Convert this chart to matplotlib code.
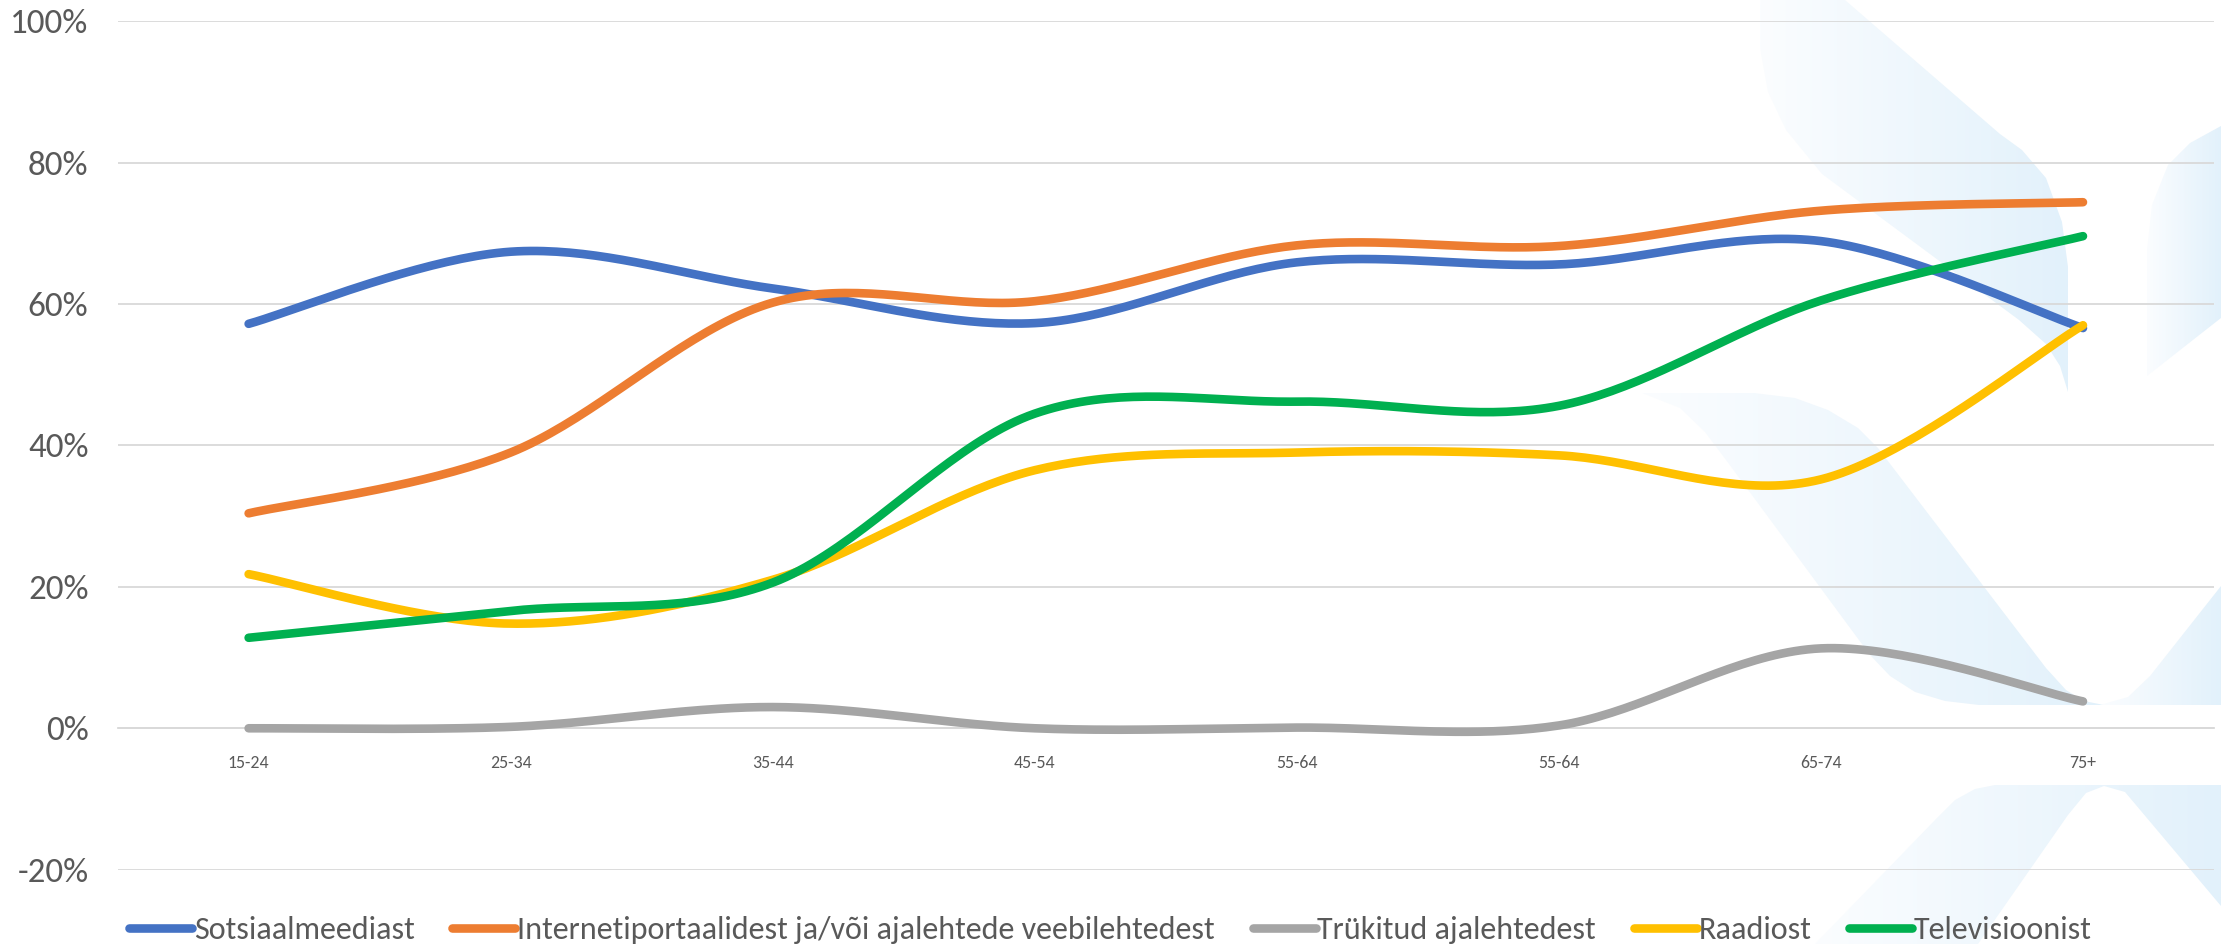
import numpy as np
import matplotlib
matplotlib.use('Agg')
import matplotlib.pyplot as plt
from matplotlib import font_manager
from matplotlib.font_manager import FontProperties
from matplotlib.textpath import TextPath
from matplotlib.patches import Polygon
from matplotlib.colors import LinearSegmentedColormap

# ---------------- data ----------------
categories = ['15-24', '25-34', '35-44', '45-54', '55-64', '55-64', '65-74', '75+']
sotsiaalmeedia = [57.2, 67.4, 62.2, 57.3, 65.9, 65.6, 68.9, 56.6]
internetiportaalid = [30.4, 39.0, 60.2, 60.4, 68.3, 68.2, 73.2, 74.4]
trukitud = [0.0, 0.2, 3.0, 0.0, 0.1, 0.4, 11.3, 3.8]
raadio = [21.8, 14.8, 21.0, 36.5, 39.0, 38.6, 35.2, 57.0]
televisioon = [12.8, 16.6, 20.6, 44.5, 46.2, 45.6, 60.5, 69.6]
series_names = ['Sotsiaalmeediast',
                'Internetiportaalidest ja/või ajalehtede veebilehtedest',
                'Trükitud ajalehtedest', 'Raadiost', 'Televisioonist']
y_ticks = [-20, 0, 20, 40, 60, 80, 100]

series = [sotsiaalmeedia, internetiportaalid, trukitud, raadio, televisioon]
colors = ['#4472C4', '#ED7D31', '#A5A5A5', '#FFC000', '#00B050']
text_color = '#595959'
grid_color = '#D9D9D9'

# ---------------- font ----------------
available = {f.name for f in font_manager.fontManager.ttflist}
family = 'DejaVu Sans'
for cand in ['Carlito', 'Liberation Sans Narrow', 'Roboto Condensed', 'Open Sans Condensed',
             'Liberation Sans', 'DejaVu Sans']:
    if cand in available:
        family = cand
        break
plt.rcParams['font.family'] = [family, 'DejaVu Sans']
plt.rcParams['lines.solid_capstyle'] = 'round'

DPI = 100
W, H = 2221, 944


def size_for_width(text, target_px):
    fp = FontProperties(family=[family, 'DejaVu Sans'])
    tp = TextPath((0, 0), text, size=10, prop=fp)
    w_pt = tp.get_extents().width
    w_px = w_pt * DPI / 72.0
    return 10.0 * target_px / w_px


fs_legend = size_for_width('Sotsiaalmeediast', 220)
fs_ytick = size_for_width('100%', 74)
fs_xtick = size_for_width('15-24', 40)


# ---------------- smoothing (Excel-like Bezier) ----------------
def smooth(xs, ys, n=40):
    xs = np.asarray(xs, float)
    ys = np.asarray(ys, float)
    P = np.column_stack([xs, ys])
    m = len(P)
    out = []
    for i in range(m - 1):
        p0 = P[i - 1] if i > 0 else P[i]
        p1 = P[i]
        p2 = P[i + 1]
        p3 = P[i + 2] if i + 2 < m else P[i + 1]
        c1 = p1 + (p2 - p0) / 6.0
        c2 = p2 - (p3 - p1) / 6.0
        t = np.linspace(0, 1, n, endpoint=(i == m - 2))[:, None]
        b = ((1 - t) ** 3) * p1 + 3 * ((1 - t) ** 2) * t * c1 + 3 * (1 - t) * t ** 2 * c2 + t ** 3 * p2
        out.append(b)
    out = np.vstack(out)
    return out[:, 0], out[:, 1]


# ---------------- figure ----------------
fig = plt.figure(figsize=(W / DPI, H / DPI), dpi=DPI)
fig.patch.set_facecolor('white')

# decorative watermark shapes (background)
bg = fig.add_axes([0, 0, 1, 1], zorder=0)
bg.set_xlim(0, W)
bg.set_ylim(H, 0)
bg.axis('off')
shapes = [
    [(1760, 0), (1760, 48), (1768, 92), (1786, 130), (1822, 174), (2019, 320), (2046, 344),
     (2060, 366), (2068, 392), (2068, 267), (2062, 222), (2046, 178), (2022, 150), (2000, 134),
     (1845, 0)],
    [(2147, 376), (2147, 250), (2152, 205), (2168, 165), (2190, 143), (2221, 126), (2221, 318)],
    [(1642, 393), (1754, 393), (1795, 398), (1828, 410), (1858, 428), (1878, 448), (2046, 668),
     (2066, 690), (2084, 701), (2104, 705), (1979, 705), (1945, 701), (1915, 692), (1890, 676),
     (1870, 655), (1729, 464), (1705, 432), (1680, 408)],
    [(2100, 705), (2128, 697), (2150, 676), (2221, 586), (2221, 705)],
    [(1815, 944), (1935, 820), (1955, 800), (1975, 789), (1995, 785), (2221, 785), (2221, 906),
     (2125, 792), (2104, 786), (2086, 793), (2068, 815), (1978, 944)],
]
grad = np.linspace(0, 1, 256)[None, :]
cmap = LinearSegmentedColormap.from_list('wm', ['#FBFDFF', '#E2F1FB'])
for pts in shapes:
    poly = Polygon(pts, closed=True, facecolor='none', edgecolor='none')
    bg.add_patch(poly)
    xs = [p[0] for p in pts]
    ys = [p[1] for p in pts]
    im = bg.imshow(grad, cmap=cmap, aspect='auto',
                   extent=(min(xs), max(xs), max(ys), min(ys)), zorder=0,
                   interpolation='bilinear')
    im.set_clip_path(poly)
bg.set_xlim(0, W)
bg.set_ylim(H, 0)

# main axes
left, right = 117.6 / W, 2214.0 / W
top, bottom = 1 - 21.2 / H, 1 - 869.7 / H
ax = fig.add_axes([left, bottom, right - left, top - bottom], zorder=1)
ax.set_facecolor('none')

x = np.arange(len(categories))
for vals, name, col in zip(series, series_names, colors):
    sx, sy = smooth(x, vals)
    ax.plot(sx, sy, color=col, lw=6.2, label=name, solid_capstyle='round', zorder=3)

ax.set_xlim(-0.5, len(categories) - 0.5)
ax.set_ylim(-20, 100)
ax.set_yticks(y_ticks)
ax.set_yticklabels([f'{v}%' for v in y_ticks])
ax.set_xticks(x)
ax.set_xticklabels(categories)
ax.yaxis.grid(True, color=grid_color, lw=1.3)
ax.set_axisbelow(True)
for s in ['left', 'right', 'top']:
    ax.spines[s].set_visible(False)
ax.spines['bottom'].set_position(('data', 0))
ax.spines['bottom'].set_color(grid_color)
ax.spines['bottom'].set_linewidth(1.3)
ax.tick_params(axis='y', length=0, pad=21, labelsize=fs_ytick, labelcolor=text_color)
ax.tick_params(axis='x', length=0, pad=19, labelsize=fs_xtick, labelcolor=text_color)

fs_px = fs_legend * DPI / 72.0
leg = fig.legend(loc='center', bbox_to_anchor=(0.5, 1 - 930.0 / H), ncol=5, frameon=False,
                 fontsize=fs_legend, handlelength=63.0 / fs_px, handletextpad=0.05,
                 columnspacing=38.0 / fs_px, borderpad=0, borderaxespad=0)
for t in leg.get_texts():
    t.set_color(text_color)
for h in leg.get_lines():
    h.set_linewidth(6.2)
    h.set_solid_capstyle('round')

fig.savefig('out.png', dpi=DPI, facecolor='white')
